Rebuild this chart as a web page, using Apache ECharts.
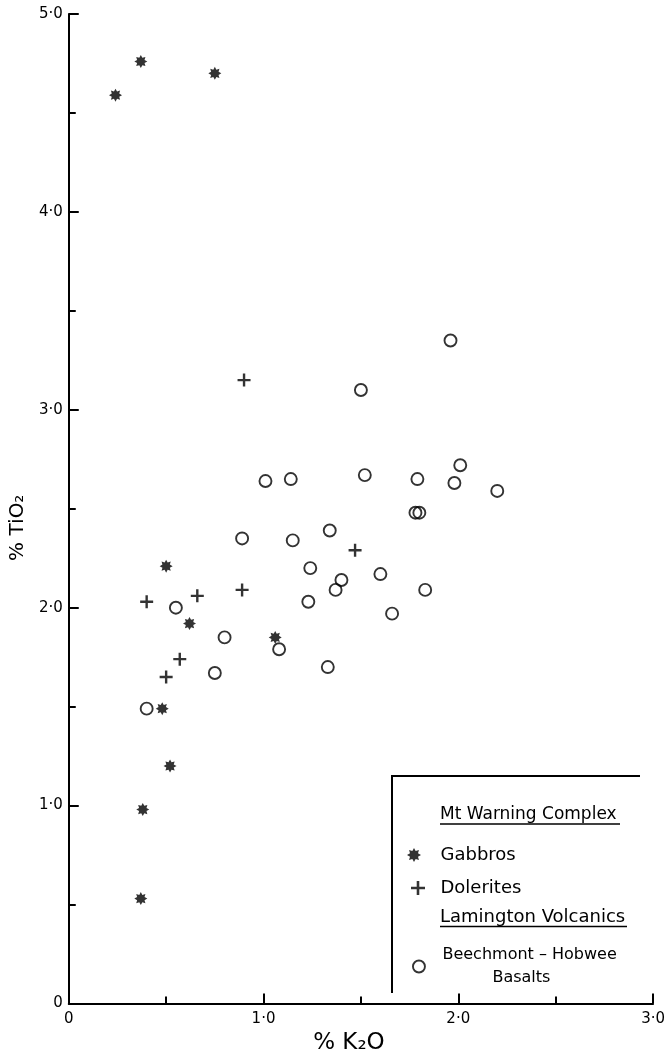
<!DOCTYPE html>
<html>
<head>
<meta charset="utf-8">
<script src="https://cdn.jsdelivr.net/npm/echarts@6/dist/echarts.min.js"></script>
<style>
  html, body { margin: 0; padding: 0; background: #fff; }
  #chart { width: 668px; height: 1061px; }
</style>
</head>
<body>
<div id="chart"></div>
<script>
// % K2O (x) against % TiO2 (y)
const gabbros = [
  [0.24, 4.59], [0.37, 4.76], [0.75, 4.70], [0.50, 2.21], [0.62, 1.92],
  [1.06, 1.85], [0.48, 1.49], [0.52, 1.20], [0.38, 0.98], [0.37, 0.53]
];
const dolerites = [
  [0.40, 2.03], [0.66, 2.06], [0.89, 2.09], [0.57, 1.74], [0.50, 1.65],
  [0.90, 3.15], [1.47, 2.29]
];
const basalts = [
  [0.55, 2.00], [0.89, 2.35], [1.15, 2.34], [1.24, 2.20], [1.23, 2.03],
  [0.80, 1.85], [1.08, 1.79], [0.75, 1.67], [0.40, 1.49], [1.96, 3.35],
  [1.50, 3.10], [2.01, 2.72], [1.01, 2.64], [1.14, 2.65], [1.52, 2.67],
  [1.79, 2.65], [1.98, 2.63], [2.20, 2.59], [1.78, 2.48], [1.80, 2.48],
  [1.34, 2.39], [1.40, 2.14], [1.37, 2.09], [1.60, 2.17], [1.83, 2.09],
  [1.66, 1.97], [1.33, 1.70]
];
const xTickLabels = ['0', '1·0', '2·0', '3·0'];
const yTickLabels = ['0', '1·0', '2·0', '3·0', '4·0', '5·0'];

const FONT = 'DejaVu Sans';
const INK = '#000';

// eight-pointed asterisk marker
function starPath(points, outer, inner) {
  let d = '';
  for (let i = 0; i < points * 2; i++) {
    const a = i * Math.PI / points - Math.PI / 2;
    const r = i % 2 ? inner : outer;
    d += (i ? 'L' : 'M') + (10 + r * Math.cos(a)).toFixed(2) + ' ' + (10 + r * Math.sin(a)).toFixed(2);
  }
  return 'path://' + d + 'Z';
}
const STAR = starPath(8, 6, 3.7);
const PLUS = 'path://M5.3 0h2.4v5.3h5.3v2.4H7.7v5.3H5.3V7.7H0V5.3h5.3z';
const RING_STYLE = { color: 'rgba(255,255,255,0)', borderColor: INK, borderWidth: 1.9 };

const tickLine = { color: INK, width: 2 };

const chart = echarts.init(document.getElementById('chart'), null, { renderer: 'canvas' });
chart.setOption({
  animation: false,
  backgroundColor: '#fff',
  grid: { left: 64, right: 11, top: 14, bottom: 57.5 },
  xAxis: {
    type: 'value', min: 0, max: 3, interval: 1,
    name: '% K₂O', nameLocation: 'middle', nameGap: 28,
    nameTextStyle: { fontFamily: FONT, fontSize: 23, color: INK, padding: [0, 24, 0, 0] },
    axisLine: { show: true, lineStyle: { color: INK, width: 2 } },
    axisTick: { show: true, inside: true, length: 10, lineStyle: tickLine },
    minorTick: { show: true, splitNumber: 2, length: 7, lineStyle: tickLine },
    splitLine: { show: false },
    axisLabel: {
      margin: 8, fontFamily: FONT, fontSize: 15, color: INK,
      formatter: v => xTickLabels[Math.round(v)]
    }
  },
  yAxis: {
    type: 'value', min: 0, max: 5, interval: 1,
    name: '% TiO₂', nameLocation: 'middle', nameGap: 37, nameRotate: 90,
    nameTextStyle: { fontFamily: FONT, fontSize: 20, color: INK, padding: [0, 38, 0, 0] },
    axisLine: { show: true, lineStyle: { color: INK, width: 2 } },
    axisTick: { show: true, inside: true, length: 10, lineStyle: tickLine },
    minorTick: { show: true, splitNumber: 2, length: 7, lineStyle: tickLine },
    splitLine: { show: false },
    axisLabel: {
      margin: 6, fontFamily: FONT, fontSize: 15, color: INK,
      formatter: v => yTickLabels[Math.round(v)]
    }
  },
  legend: [
    {
      data: [{ name: 'Gabbros', icon: STAR }],
      left: 407, top: 846, padding: 0, itemWidth: 25, itemHeight: 14, selectedMode: false,
      textStyle: { fontFamily: FONT, fontSize: 18, color: INK, lineHeight: 14, padding: [0, 0, 0, 9] }
    },
    {
      data: [{ name: 'Dolerites', icon: PLUS }],
      left: 411, top: 879, padding: 0, itemWidth: 25, itemHeight: 14, selectedMode: false,
      textStyle: { fontFamily: FONT, fontSize: 18, color: INK, lineHeight: 14, padding: [0, 0, 0, 5] }
    },
    {
      data: [{ name: 'Beechmont – Hobwee Basalts', icon: 'circle', itemStyle: RING_STYLE }],
      left: 412, top: 947, padding: 0, itemWidth: 25, itemHeight: 12, selectedMode: false,
      formatter: () => '{a|Beechmont – Hobwee}\n{b|Basalts}',
      textStyle: {
        fontFamily: FONT, color: INK, padding: [0, 0, 0, 6],
        rich: {
          a: { fontFamily: FONT, fontSize: 16, color: INK, lineHeight: 23 },
          b: { fontFamily: FONT, fontSize: 16, color: INK, lineHeight: 23, padding: [0, 0, 0, 50] }
        }
      }
    }
  ],
  graphic: [
    // legend frame
    { type: 'line', shape: { x1: 392, y1: 776, x2: 392, y2: 993 }, style: { stroke: INK, lineWidth: 2 } },
    { type: 'line', shape: { x1: 391, y1: 776, x2: 640, y2: 776 }, style: { stroke: INK, lineWidth: 2 } },
    // group headings
    { type: 'text', x: 440, y: 815, style: { text: 'Mt Warning Complex', font: '17px "DejaVu Sans"', fill: INK, align: 'left', verticalAlign: 'middle' } },
    { type: 'line', shape: { x1: 440, y1: 824, x2: 620, y2: 824 }, style: { stroke: INK, lineWidth: 1.6 } },
    { type: 'text', x: 440, y: 917.5, style: { text: 'Lamington Volcanics', font: '18px "DejaVu Sans"', fill: INK, align: 'left', verticalAlign: 'middle' } },
    { type: 'line', shape: { x1: 440, y1: 926.5, x2: 627, y2: 926.5 }, style: { stroke: INK, lineWidth: 1.6 } }
  ],
  series: [
    {
      name: 'Beechmont – Hobwee Basalts', type: 'scatter', data: basalts,
      symbol: 'circle', symbolSize: 12, itemStyle: RING_STYLE, z: 2
    },
    {
      name: 'Gabbros', type: 'scatter', data: gabbros,
      symbol: STAR, symbolSize: 13, itemStyle: { color: INK }, z: 3
    },
    {
      name: 'Dolerites', type: 'scatter', data: dolerites,
      symbol: PLUS, symbolSize: 13, itemStyle: { color: INK }, z: 3
    }
  ]
});
</script>
</body>
</html>
